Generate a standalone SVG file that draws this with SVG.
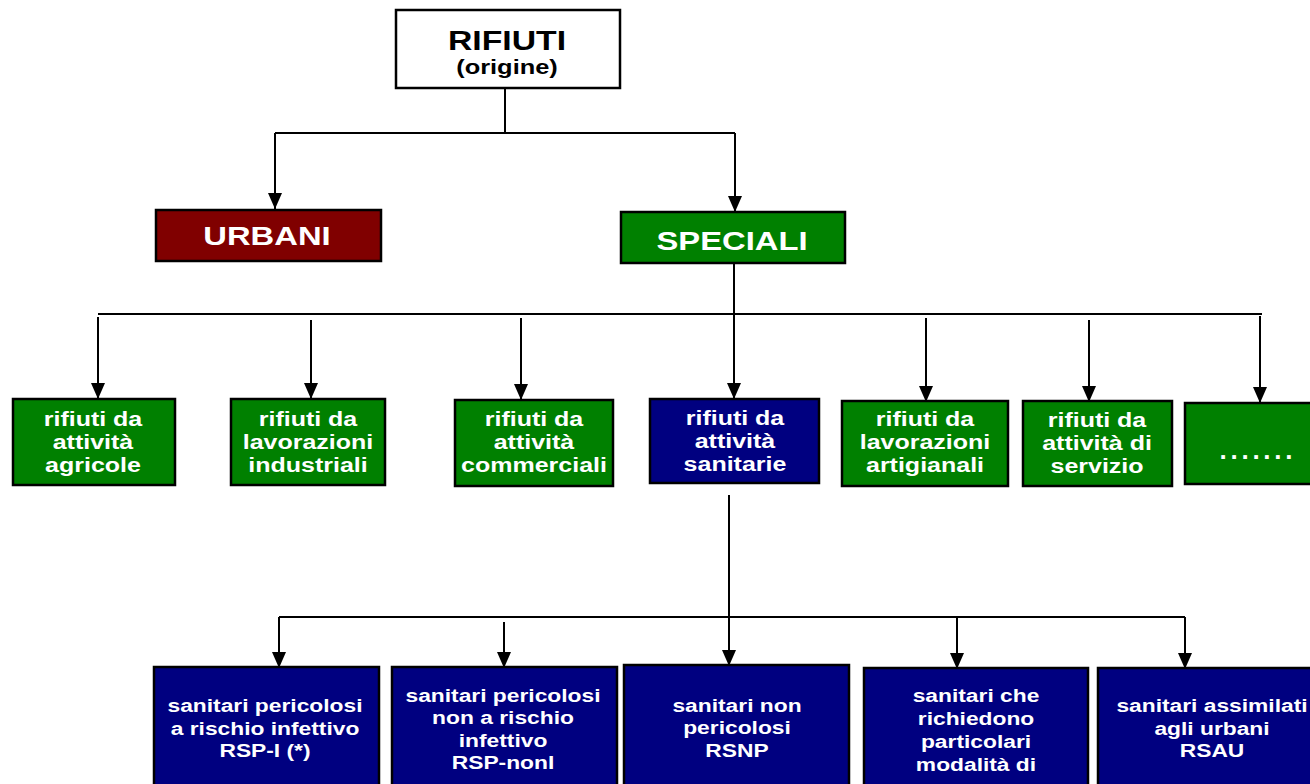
<svg xmlns="http://www.w3.org/2000/svg" width="1310" height="784" viewBox="0 0 1310 784">
<defs>
<marker id="ah" markerUnits="userSpaceOnUse" markerWidth="16" markerHeight="14" viewBox="0 0 16 14" refX="16" refY="7" orient="auto">
<path d="M0,0 L16,7 L0,14 Z" fill="#000"/>
</marker>
</defs>
<style>
.box{stroke:#000;stroke-width:2.5}
.white{fill:#fff}
.green{fill:#008000}
.red{fill:#800000}
.blue{fill:#000080}
.ln{stroke:#000;stroke-width:2;fill:none}
.ar{stroke:#000;stroke-width:2;fill:none;marker-end:url(#ah)}
text{font-family:"Liberation Sans",Arial,sans-serif;font-weight:bold;text-anchor:middle}
.t1{font-size:27px;fill:#000}
.t2{font-size:20px;fill:#000}
.t3{font-size:26px;fill:#fff}
.t4{font-size:20px;fill:#fff}
.t5{font-size:19px;fill:#fff}
.dots{font-size:26px;fill:#fff}
</style>
<rect width="1310" height="784" fill="#fff"/>
<g id="connectors">
<path class="ln" d="M505,88 V133 M275,133 H735"/>
<path class="ar" d="M275,133 V209"/>
<path class="ar" d="M735,133 V212"/>
<path class="ln" d="M734,263 V314 M98,314 H1262"/>
<path class="ar" d="M98,317 V399"/>
<path class="ar" d="M311,320 V399"/>
<path class="ar" d="M521,318 V400"/>
<path class="ar" d="M734,314 V399"/>
<path class="ar" d="M926,318 V402"/>
<path class="ar" d="M1089,320 V402"/>
<path class="ar" d="M1260,316 V403"/>
<path class="ar" d="M729,495 V666"/>
<path class="ln" d="M279,617 H1185"/>
<path class="ar" d="M279,617 V668"/>
<path class="ar" d="M504,622 V668"/>
<path class="ar" d="M957,617 V669"/>
<path class="ar" d="M1185,617 V669"/>
</g>
<g id="n-rifiuti">
<rect class="box white" x="396" y="10" width="224" height="78"/>
<text class="t1" transform="translate(507 50) scale(1.25 1)">RIFIUTI</text>
<text class="t2" transform="translate(507 74) scale(1.27 1)">(origine)</text>
</g>
<g id="n-urbani">
<rect class="box red" x="156" y="210" width="225" height="51"/>
<text class="t3" transform="translate(267 245) scale(1.26 1)">URBANI</text>
</g>
<g id="n-speciali">
<rect class="box green" x="621" y="212" width="224" height="51"/>
<text class="t3" transform="translate(732 250) scale(1.26 1)">SPECIALI</text>
</g>
<g id="n-agricole">
<rect class="box green" x="13" y="399" width="162" height="86"/>
<text class="t4" transform="translate(93 426) scale(1.25 1)"><tspan x="0">rifiuti da</tspan><tspan x="0" dy="23">attività</tspan><tspan x="0" dy="23">agricole</tspan></text>
</g>
<g id="n-industriali">
<rect class="box green" x="231" y="399" width="154" height="86"/>
<text class="t4" transform="translate(308 426) scale(1.25 1)"><tspan x="0">rifiuti da</tspan><tspan x="0" dy="23">lavorazioni</tspan><tspan x="0" dy="23">industriali</tspan></text>
</g>
<g id="n-commerciali">
<rect class="box green" x="455" y="400" width="158" height="86"/>
<text class="t4" transform="translate(534 426) scale(1.25 1)"><tspan x="0">rifiuti da</tspan><tspan x="0" dy="23">attività</tspan><tspan x="0" dy="23">commerciali</tspan></text>
</g>
<g id="n-sanitarie">
<rect class="box blue" x="650" y="399" width="169" height="84"/>
<text class="t4" transform="translate(735 425) scale(1.25 1)"><tspan x="0">rifiuti da</tspan><tspan x="0" dy="23">attività</tspan><tspan x="0" dy="23">sanitarie</tspan></text>
</g>
<g id="n-artigianali">
<rect class="box green" x="842" y="401" width="166" height="85"/>
<text class="t4" transform="translate(925 426) scale(1.25 1)"><tspan x="0">rifiuti da</tspan><tspan x="0" dy="23">lavorazioni</tspan><tspan x="0" dy="23">artigianali</tspan></text>
</g>
<g id="n-servizio">
<rect class="box green" x="1023" y="401" width="149" height="85"/>
<text class="t4" transform="translate(1097 427) scale(1.25 1)"><tspan x="0">rifiuti da</tspan><tspan x="0" dy="23">attività di</tspan><tspan x="0" dy="23">servizio</tspan></text>
</g>
<g id="n-altro">
<rect class="box green" x="1185" y="403" width="140" height="81"/>
<text class="dots" x="1256" y="459" textLength="73" lengthAdjust="spacing">.......</text>
</g>
<g id="n-rspi">
<rect class="box blue" x="154" y="667" width="225" height="130"/>
<text class="t5" transform="translate(265 712) scale(1.2 1)"><tspan x="0">sanitari pericolosi</tspan><tspan x="0" dy="23">a rischio infettivo</tspan><tspan x="0" dy="22">RSP-I (*)</tspan></text>
</g>
<g id="n-rspnoni">
<rect class="box blue" x="392" y="667" width="225" height="130"/>
<text class="t5" transform="translate(503 702) scale(1.2 1)"><tspan x="0">sanitari pericolosi</tspan><tspan x="0" dy="22.5">non a rischio</tspan><tspan x="0" dy="22.5">infettivo</tspan><tspan x="0" dy="22.5">RSP-nonI</tspan></text>
</g>
<g id="n-rsnp">
<rect class="box blue" x="624" y="665" width="225" height="130"/>
<text class="t5" transform="translate(737 712) scale(1.2 1)"><tspan x="0">sanitari non</tspan><tspan x="0" dy="22.5">pericolosi</tspan><tspan x="0" dy="22.5">RSNP</tspan></text>
</g>
<g id="n-modalita">
<rect class="box blue" x="864" y="668" width="224" height="130"/>
<text class="t5" transform="translate(976 702) scale(1.2 1)"><tspan x="0">sanitari che</tspan><tspan x="0" dy="23">richiedono</tspan><tspan x="0" dy="23">particolari</tspan><tspan x="0" dy="23">modalità di</tspan></text>
</g>
<g id="n-rsau">
<rect class="box blue" x="1098" y="668" width="225" height="130"/>
<text class="t5" transform="translate(1212 712) scale(1.2 1)"><tspan x="0">sanitari assimilati</tspan><tspan x="0" dy="23">agli urbani</tspan><tspan x="0" dy="22">RSAU</tspan></text>
</g>
</svg>
